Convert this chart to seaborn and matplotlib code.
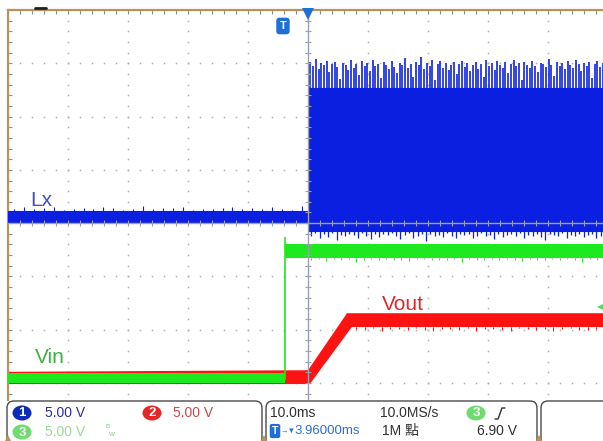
import numpy as np
import matplotlib
matplotlib.use("Agg")
import matplotlib.pyplot as plt
import seaborn as sns
from matplotlib.patches import FancyBboxPatch, Ellipse
from matplotlib.lines import Line2D

# ---------------- data (time in ms, level in screen divisions) ----------------
# Lx (channel 1) envelope
lx_t = [-50.0, 0.1, 0.1, 50.0]
lx_hi = [0.23, 0.23, 2.53, 2.53]
lx_lo = [0.02, 0.02, -0.15, -0.15]
# Lx spikes before switching starts (upward)
lx_pre_spikes = [0.27, 0.30, 0.26, 0.28, 0.31, 0.25, 0.27, 0.29, 0.26, 0.30,
                 0.28, 0.25, 0.27, 0.32, 0.26, 0.29, 0.28, 0.30, 0.25, 0.27,
                 0.26, 0.29, 0.31, 0.27, 0.28, 0.26, 0.30, 0.27, 0.25, 0.33]
# Lx switching spikes (upper edge)
lx_sw_spikes = [3.02, 2.95, 3.08, 2.90, 3.00, 2.97, 3.05, 2.84, 2.99, 3.03,
                2.93, 2.70, 3.01, 2.96, 2.88, 3.06, 2.92, 2.98, 2.78, 3.04,
                2.95, 3.00, 2.86, 3.07, 2.94, 2.99, 2.72, 3.02, 2.97, 2.90,
                3.05, 2.93, 2.82, 3.00, 2.96, 3.10, 2.91, 2.98, 2.75, 3.03,
                2.97, 3.12, 2.89, 3.01, 2.95, 3.06, 2.68, 2.99, 3.04, 2.92,
                3.00, 2.87, 2.96, 3.02, 2.79, 2.98, 3.05, 2.93, 3.01, 2.85,
                2.97, 3.03, 2.90, 2.99, 2.74, 3.06, 2.95, 3.00, 2.88, 3.04,
                2.96, 2.92, 3.02, 2.81, 2.98, 3.07, 2.94, 3.00, 2.69, 3.03,
                2.97, 2.91, 3.05, 2.95, 2.83, 3.01, 2.99, 2.93, 3.08, 2.96,
                2.77, 3.02, 2.94, 3.00, 2.89, 3.04, 2.97, 2.92, 3.06, 2.98,
                2.86, 3.01, 2.95, 3.03, 2.73, 2.99, 3.05, 2.93, 3.00, 2.96]
# Lx switching dips (lower edge)
lx_sw_dips = [-0.24, -0.19, -0.28, -0.21, -0.26, -0.18, -0.31, -0.22, -0.25, -0.20,
              -0.23, -0.27, -0.19, -0.24, -0.30, -0.21, -0.26, -0.20, -0.23, -0.18,
              -0.25, -0.29, -0.22, -0.19, -0.27, -0.24, -0.21, -0.33, -0.20, -0.25,
              -0.22, -0.26, -0.19, -0.24, -0.28, -0.21, -0.23, -0.20, -0.27, -0.25,
              -0.19, -0.24, -0.22, -0.29, -0.20, -0.26, -0.23, -0.21, -0.25, -0.19,
              -0.28, -0.22, -0.24, -0.20, -0.26, -0.31, -0.21, -0.23, -0.25, -0.19,
              -0.27, -0.22, -0.24, -0.20, -0.26, -0.23, -0.21, -0.28, -0.24, -0.22]

# Vin (channel 3) envelope
vin_t = [-50.0, -3.85, -3.85, 50.0]
vin_hi = [-2.81, -2.81, -0.39, -0.39]
vin_lo = [-3.00, -3.00, -0.66, -0.66]
vin_step_time = -3.85
vin_step_top = -0.26
vin_post_dips = [-0.69, -0.68, -0.71, -0.68, -0.70, -0.68, -0.72, -0.69, -0.68, -0.70,
                 -0.68, -0.70, -0.69, -0.71, -0.68, -0.68, -0.70, -0.69, -0.70, -0.68,
                 -0.72, -0.68, -0.69, -0.70, -0.68, -0.70, -0.68, -0.69, -0.71, -0.68,
                 -0.70, -0.69, -0.68, -0.70, -0.68, -0.69, -0.72, -0.68, -0.70, -0.69]

# Vout (channel 2) envelope
vout_hi_t = [-50.0, 0.0, 6.5, 50.0]
vout_hi = [-2.79, -2.76, -1.69, -1.69]
vout_lo_t = [-50.0, 0.3, 7.3, 50.0]
vout_lo = [-3.02, -3.02, -1.95, -1.95]
vout_post_dips = [-1.98, -2.00, -1.97, -2.02, -1.99, -1.98, -2.01, -1.97, -2.00, -2.03,
                  -1.98, -1.99, -2.01, -1.97, -2.02, -1.99, -1.98, -2.00, -2.03, -1.97,
                  -1.99, -2.01, -1.98, -2.02, -1.99, -1.97, -2.00, -2.01, -1.98, -2.03]

labels = {"Lx": (-46.3, 0.32), "Vin": (-45.5, -2.63), "Vout": (12.3, -1.63)}

# status bar texts
ch1_scale = "5.00 V"
ch2_scale = "5.00 V"
ch3_scale = "5.00 V"
timebase = "10.0ms"
sample_rate = "10.0MS/s"
trig_arrow = "→▼"
trig_delay = "3.96000ms"
record_len = "1M 點"
trig_level = "6.90 V"

# ---------------- style ----------------
sns.set_theme(style="white")
plt.rcParams["font.family"] = ["Liberation Sans", "DejaVu Sans"]

BLUE = "#0a1fe0"
GREEN = "#1ee81e"
RED = "#ff1212"
GRID = "#b0b0b0"
CENTER = "#9aa0b2"
BORDER = "#b8935a"

W, H = 603, 441
fig = plt.figure(figsize=(W / 100, H / 100), dpi=100)
fig.patch.set_facecolor("white")

# main axes: pixel x 8..608, pixel y 10..400
ax = fig.add_axes([8 / W, (H - 400) / H, 600 / W, 390 / H])
ax.set_xlim(-50, 50)
ax.set_ylim(-(400 - 223) / 53.33, (223 - 10) / 53.33)
ax.set_facecolor("white")

# grid dots
for gx in [-40, -30, -20, -10, 10, 20, 30, 40]:
    ys = np.arange(-3.4, 4.0, 0.2)
    ax.plot(np.full_like(ys, gx), ys, linestyle="none", marker="s", ms=1.1,
            color=GRID, mew=0, zorder=1)
for gy in [-3, -2, -1, 1, 2, 3]:
    xs = np.arange(-48, 50, 2.0)
    ax.plot(xs, np.full_like(xs, gy), linestyle="none", marker="s", ms=1.1,
            color=GRID, mew=0, zorder=1)

# Vout (red)
ax.fill(np.concatenate([vout_hi_t, vout_lo_t[::-1]]),
        np.concatenate([vout_hi, vout_lo[::-1]]), color=RED, lw=0, zorder=2)
dip_t = np.linspace(8.0, 49.5, len(vout_post_dips))
ax.vlines(dip_t, -1.95, vout_post_dips, color=RED, lw=0.8, zorder=2)

# Vin (green)
ax.fill_between(vin_t, vin_lo, vin_hi, color=GREEN, lw=0, zorder=3)
ax.vlines([vin_step_time], -2.95, vin_step_top, color=GREEN, lw=1.2, zorder=3)
dip_t = np.linspace(0.5, 49.5, len(vin_post_dips))
ax.vlines(dip_t, -0.66, vin_post_dips, color=GREEN, lw=0.8, zorder=3)

# Lx (blue)
ax.fill_between(lx_t, lx_lo, lx_hi, color=BLUE, lw=0, zorder=4)
sns.lineplot(x=lx_t, y=lx_hi, ax=ax, color=BLUE, lw=0.8, estimator=None,
             sort=False, zorder=4)
sns.lineplot(x=lx_t, y=lx_lo, ax=ax, color=BLUE, lw=0.8, estimator=None,
             sort=False, zorder=4)
sp_t = np.linspace(-49.0, -1.0, len(lx_pre_spikes))
ax.vlines(sp_t, 0.2, lx_pre_spikes, color=BLUE, lw=0.8, zorder=4)
sp_t = np.linspace(0.4, 49.6, len(lx_sw_spikes))
ax.vlines(sp_t, 2.5, lx_sw_spikes, color=BLUE, lw=1.3, alpha=0.9, zorder=4)
dip_t = np.linspace(0.5, 49.5, len(lx_sw_dips))
ax.vlines(dip_t, -0.12, lx_sw_dips, color=BLUE, lw=0.9, zorder=4)

# center cross with tick marks
ax.axhline(0, color=CENTER, lw=1.0, zorder=5)
ax.axvline(0, color=CENTER, lw=1.0, zorder=5)
tx = np.arange(-48, 50, 2.0)
ax.vlines(tx, -0.05, 0.05, color=CENTER, lw=0.8, zorder=5)
ty = np.arange(-3.2, 4.0, 0.2)
ax.hlines(ty, -0.5, 0.5, color=CENTER, lw=0.8, zorder=5)

# trace labels
ax.text(*labels["Lx"], "Lx", color="#3f4fc8", fontsize=15, va="baseline", zorder=6)
ax.text(*labels["Vin"], "Vin", color="#3cb043", fontsize=15, va="baseline", zorder=6)
ax.text(*labels["Vout"], "Vout", color="#e02828", fontsize=15, va="baseline", zorder=6)

# trigger markers
ax.plot([0], [3.93], marker="v", ms=8, color="#1e6fd6", mew=0, clip_on=False, zorder=7)
ax.text(-4.17, 3.70, "T", color="white", fontsize=8, fontweight="bold",
        ha="center", va="center", zorder=7,
        bbox=dict(boxstyle="round,pad=0.3,rounding_size=0.3", fc="#1e6fd6", ec="none"))
ax.plot([49.0], [-1.58], marker="<", ms=7, color="#5ad85a", mew=0, clip_on=False, zorder=7)

# border ticks and spines
ax.set_xticks(np.arange(-50, 51, 10))
ax.set_xticks(np.arange(-50, 51, 2), minor=True)
ax.set_yticks(np.arange(-3, 4.1, 1))
ax.set_yticks(np.arange(-3.2, 4.0, 0.2), minor=True)
ax.tick_params(which="both", direction="in", top=True, bottom=False, left=True,
               right=False, labeltop=False, labelbottom=False, labelleft=False,
               color="#909090", length=3, width=0.8)
for s in ["right", "bottom"]:
    ax.spines[s].set_visible(False)
for s in ["top", "left"]:
    ax.spines[s].set_color(BORDER)
    ax.spines[s].set_linewidth(1.6)
ax.grid(False)

fig.add_artist(Line2D([35 / W, 46 / W], [(H - 8) / H, (H - 8) / H],
                      color="#202020", lw=2))

# ---------------- status bar ----------------
sb = fig.add_axes([0, 0, 1, (H - 398) / H])
sb.set_xlim(0, W)
sb.set_ylim(H, 398)
sb.axis("off")
sb.patch.set_alpha(0)

for x0, x1 in [(7, 262), (266, 537), (541, 620)]:
    sb.add_patch(FancyBboxPatch((x0, 401), x1 - x0, 60,
                                boxstyle="round,pad=0,rounding_size=7",
                                fc="white", ec="#4a4a4a", lw=1.0))
for mx in [8, 264, 539]:
    sb.plot([mx], [438], marker="^", ms=4, color=BORDER, mew=0)

FONT = ["Liberation Sans", "Noto Sans CJK TC", "DejaVu Sans"]
FS = 10


def badge(x, y, n, color):
    sb.add_patch(Ellipse((x, y), 19, 15, fc=color, ec="none"))
    sb.text(x, y + 0.5, n, color="white", fontsize=9.5, fontweight="bold",
            ha="center", va="center", family=FONT)


badge(22, 413, "1", "#0c2ab8")
sb.text(45, 413, ch1_scale, color="#2c2c9c", fontsize=FS, va="center", family=FONT)
badge(152, 413, "2", "#e52626")
sb.text(173, 413, ch2_scale, color="#c8484a", fontsize=FS, va="center", family=FONT)
badge(22, 432, "3", "#6fdc6f")
sb.text(45, 432, ch3_scale, color="#9ad89a", fontsize=FS, va="center", family=FONT)
sb.text(106, 427, "B", color="#7ccc7c", fontsize=4.5, va="center", family=FONT)
sb.text(109, 434.5, "W", color="#7ccc7c", fontsize=4.5, va="center", family=FONT)

sb.text(270, 413, timebase, color="#303030", fontsize=FS, va="center", family=FONT)
sb.text(380, 413, sample_rate, color="#303030", fontsize=FS, va="center", family=FONT)
badge(476, 413, "3", "#6fdc6f")
sb.plot([495, 498, 502, 505], [419, 419, 408, 408], color="#303030", lw=1.0)

sb.text(275, 431, "T", color="white", fontsize=7.5, fontweight="bold",
        ha="center", va="center", family=FONT,
        bbox=dict(boxstyle="round,pad=0.2,rounding_size=0.2", fc="#1f6fd6", ec="none"))
sb.text(280, 431, trig_arrow, color="#2e6fd4", fontsize=5.5, va="center", family=FONT)
sb.text(294, 431, trig_delay, color="#2e6fd4", fontsize=9.5, va="center", family=FONT)
sb.text(382, 431, record_len, color="#303030", fontsize=FS, va="center", family=FONT)
sb.text(477, 431, trig_level, color="#303030", fontsize=FS, va="center", family=FONT)

fig.savefig("out.png", dpi=100)
